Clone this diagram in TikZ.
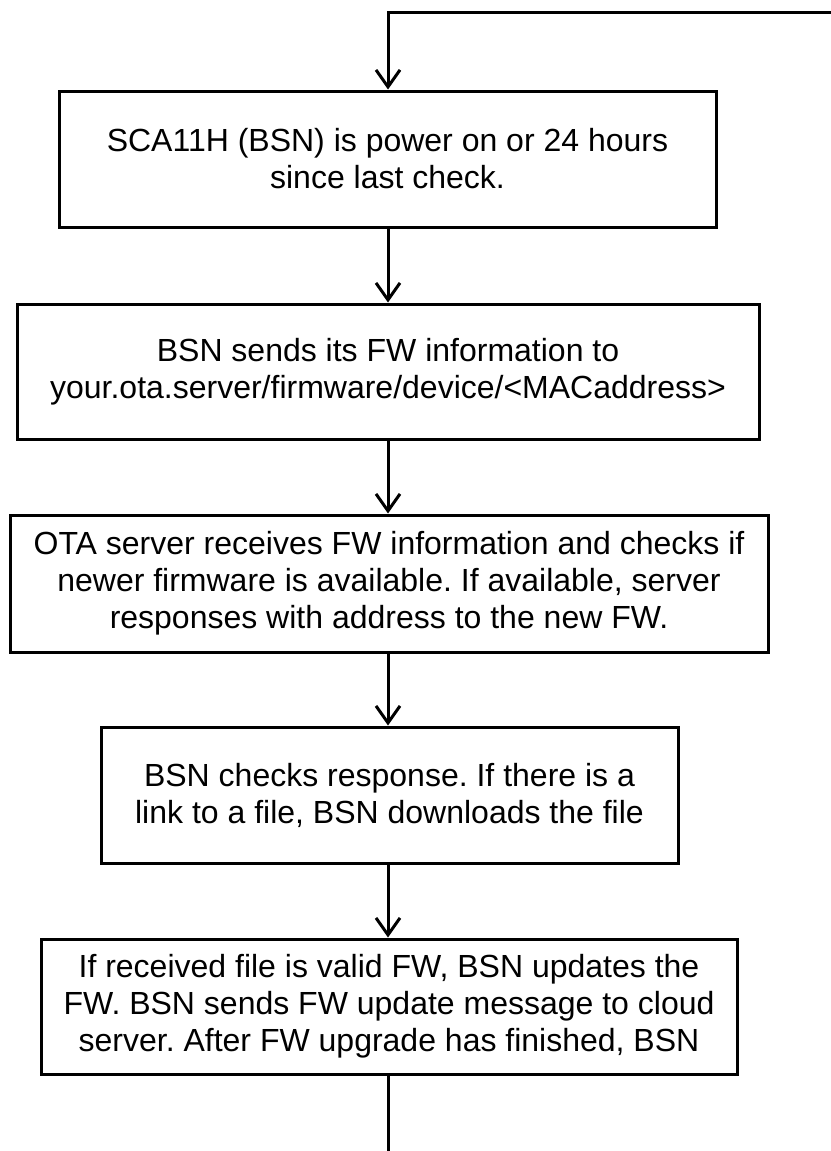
\documentclass[tikz,border=0pt]{standalone}
\usepackage{fontspec}
\setmainfont{Liberation Sans}
\frenchspacing
\usetikzlibrary{arrows.meta}
\tikzset{
  stepbox/.style={draw=black, line width=3pt, rectangle, inner sep=0pt,
    align=center, font=\fontsize{32}{37}\selectfont\frenchspacing, fill=white},
  flowarrow/.style={draw=black, line width=3pt,
    -{Straight Barb[length=17pt,width=24pt,line width=3pt]}},
  flowline/.style={draw=black, line width=3pt}
}
\begin{document}
\begin{tikzpicture}[x=1pt,y=-1pt]
\useasboundingbox (0,0) rectangle (830,1151);
\node[stepbox, minimum width=657pt, minimum height=136pt] (b1) at (387.5,159)
  {SCA11H (BSN) is power on or 24 hours\\since last check.};
\node[stepbox, minimum width=742pt, minimum height=135pt] (b2) at (388,371.5)
  {BSN sends its FW information to\\your.ota.server/firmware/device/<MACaddress>};
\node[stepbox, minimum width=758pt, minimum height=137pt] (b3) at (389,583.5)
  {OTA server receives FW information and checks if\\newer firmware is available. If available, server\\responses with address to the new FW.};
\node[stepbox, minimum width=577pt, minimum height=136pt] (b4) at (389.5,795)
  {BSN checks response. If there is a\\link to a file, BSN downloads the file};
\node[stepbox, minimum width=696pt, minimum height=135pt] (b5) at (389,1006.5)
  {If received file is valid FW, BSN updates the\\FW. BSN sends FW update message to cloud\\server. After FW upgrade has finished, BSN};
\coordinate (topright) at (832,12);
\coordinate (topleft) at (388,12);
\coordinate (bottomend) at (389,1153);
\draw[flowarrow] (topright) -- (topleft) -- (topleft |- b1.north);
\draw[flowarrow] (b1.south -| topleft) -- (topleft |- b2.north);
\draw[flowarrow] (b2.south -| topleft) -- (topleft |- b3.north);
\draw[flowarrow] (b3.south -| topleft) -- (topleft |- b4.north);
\draw[flowarrow] (b4.south -| topleft) -- (topleft |- b5.north);
\draw[flowline] (b5.south -| topleft) -- (bottomend -| topleft);
\end{tikzpicture}
\end{document}
